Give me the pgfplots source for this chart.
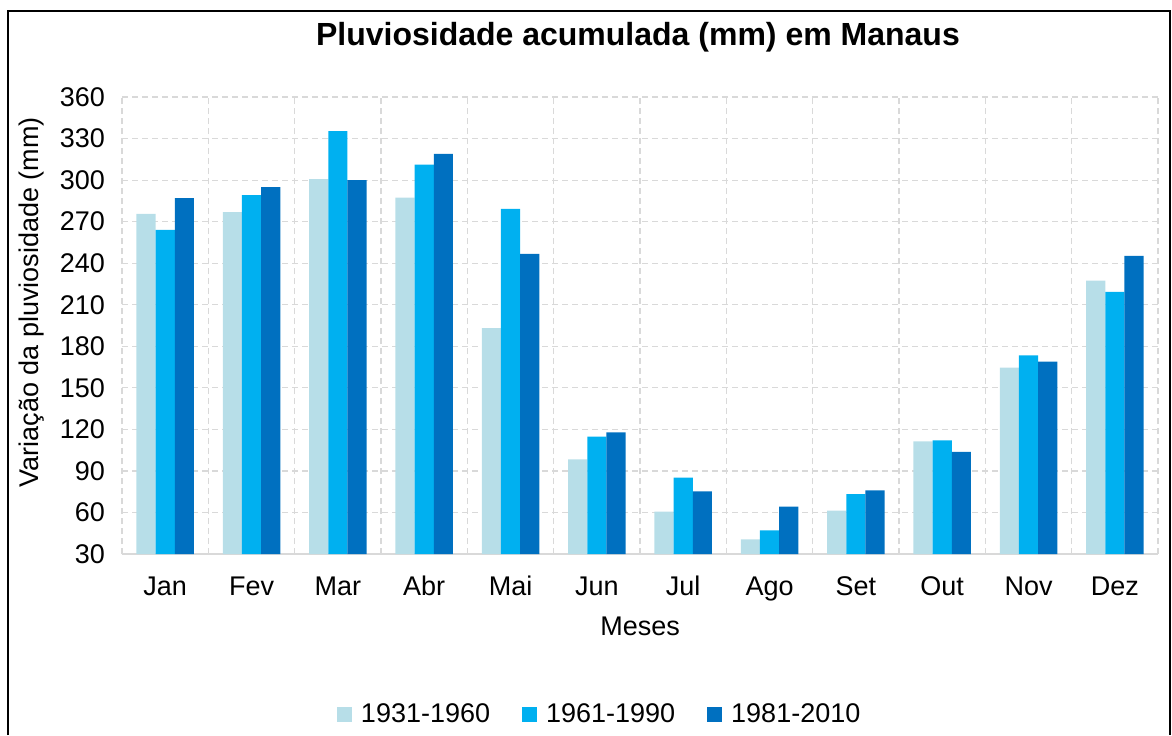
\documentclass[border=0pt]{standalone}
\usepackage{fontspec}
\setmainfont{Liberation Sans}
\usepackage{pgfplots}
\pgfplotsset{compat=1.18}

\definecolor{c1}{HTML}{B7DEE8}
\definecolor{c2}{HTML}{00B0F0}
\definecolor{c3}{HTML}{0070C0}
\definecolor{gridc}{HTML}{D9D9D9}

\begin{document}
\begin{tikzpicture}
\begin{axis}[
  scale only axis,
  width=518pt, height=228.5pt,
  xmin=-0.5, xmax=11.5,
  ymin=30, ymax=360,
  ytick={30,60,...,360},
  xtick={0,...,11},
  xticklabels={Jan,Fev,Mar,Abr,Mai,Jun,Jul,Ago,Set,Out,Nov,Dez},
  minor xtick={-0.5,0.5,...,11.5},
  ymajorgrids, xminorgrids,
  grid style={gridc, line width=0.6pt, dash pattern=on 3pt off 2pt},
  minor grid style={gridc, line width=0.6pt, dash pattern=on 3pt off 2pt},
  axis x line*=bottom, axis y line*=left,
  x axis line style={gridc, line width=0.8pt, -},
  y axis line style={draw=none},
  major tick length=0pt, minor tick length=0pt,
  tick label style={font=\fontsize{13.5}{16}\selectfont},
  yticklabel style={xshift=-5pt},
  xticklabel style={anchor=base, yshift=-20.5pt},
  /pgf/number format/assume math mode=true,
  ybar=0pt, bar width=0.222,
  clip=false,
  every axis title shift=0pt,
  title={\bfseries Pluviosidade acumulada (mm) em Manaus},
  title style={font=\fontsize{16}{19}\selectfont, at={(rel axis cs:0.498,1.131)}, anchor=center},
  xlabel={Meses},
  xlabel style={font=\fontsize{13.5}{16}\selectfont, at={(rel axis cs:0.5,-0.1576)}, anchor=center},
  ylabel={Variação da pluviosidade (mm)},
  ylabel style={font=\fontsize{13.5}{16}\selectfont, at={(rel axis cs:-0.0869,0.551)}, anchor=center},
  legend columns=3,
  legend style={at={(rel axis cs:0.462,-0.352)}, anchor=center, draw=none,
    font=\fontsize{13.5}{16}\selectfont,
    /tikz/every odd column/.append style={column sep=2.5pt},
    /tikz/every even column/.append style={column sep=14pt}},
  legend image code/.code={\fill[#1] (0pt,-3.75pt) rectangle (7.5pt,3.75pt);},
]
\addplot[fill=c1, draw=none] coordinates {
  (0,275.7) (1,276.9) (2,300.7) (3,287.3) (4,193.1) (5,98.4)
  (6,60.6) (7,40.6) (8,61.3) (9,111.4) (10,164.6) (11,227.5)};
\addlegendentry{1931-1960}
\addplot[fill=c2, draw=none] coordinates {
  (0,264.1) (1,289.2) (2,335.4) (3,311.1) (4,279.3) (5,114.8)
  (6,85.1) (7,47.1) (8,73.3) (9,112.1) (10,173.5) (11,219.3)};
\addlegendentry{1961-1990}
\addplot[fill=c3, draw=none] coordinates {
  (0,287.0) (1,295.0) (2,300.0) (3,319.0) (4,246.8) (5,117.9)
  (6,75.3) (7,64.2) (8,76.0) (9,103.7) (10,169.0) (11,245.3)};
\addlegendentry{1981-2010}

\coordinate (bbsw) at (rel axis cs:-0.1178,-0.3961);
\coordinate (bbne) at (rel axis cs:1.0135,1.2123);
\coordinate (frsw) at (rel axis cs:-0.110,-0.3961);
\coordinate (frne) at (rel axis cs:1.0116,1.188);
\end{axis}
\draw[black, line width=1pt] (frsw) -- (frsw |- frne) -- (frne) -- (frne |- frsw);
\pgfresetboundingbox
\path[use as bounding box] (bbsw) rectangle (bbne);
\end{tikzpicture}
\end{document}
